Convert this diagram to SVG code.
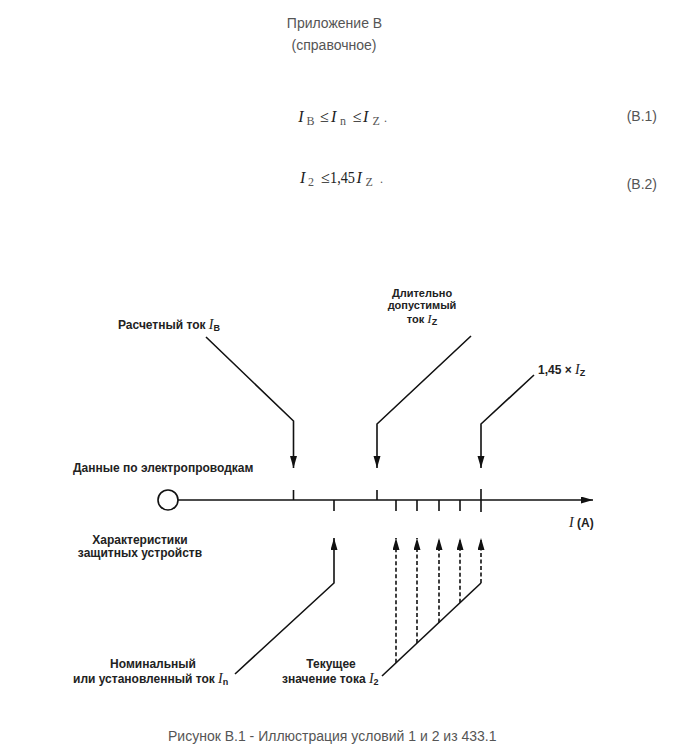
<svg xmlns="http://www.w3.org/2000/svg" width="673" height="754" viewBox="0 0 673 754">
<defs>
<style>
.hdr{font-family:"Liberation Sans",Arial,sans-serif;font-size:14px;fill:#555}
.f{font-family:"Liberation Serif","Times New Roman",serif;font-size:16px;fill:#222}
.fi{font-style:italic}
.fs{font-family:"Liberation Serif","Times New Roman",serif;font-size:12px;fill:#555}
.lbl{font-family:"Liberation Sans",Arial,sans-serif;font-size:12px;font-weight:bold;fill:#222}
.sm{font-size:11px}
.iv{font-family:"Liberation Serif","Times New Roman",serif;font-style:italic;font-size:14px;font-weight:normal}
.sb{font-size:9px}
.ln{fill:none;stroke:#111;stroke-width:1.6}
.ds{stroke-dasharray:4 2.5}
</style>
<marker id="ah" markerUnits="userSpaceOnUse" markerWidth="13" markerHeight="8" refX="12" refY="3.5" orient="auto" viewBox="0 0 13 8">
<path d="M0,0 L12,3.5 L0,7 z" fill="#111"/>
</marker>
</defs>
<rect width="673" height="754" fill="#fff"/>

<g id="header">
<text class="hdr" x="334.5" y="28" text-anchor="middle">Приложение В</text>
<text class="hdr" x="334" y="50" text-anchor="middle">(справочное)</text>
</g>

<g id="formula1">
<text class="f fi" x="298.3" y="122">I</text>
<text class="fs" x="306.5" y="125">B</text>
<text class="f" x="320" y="122">≤</text>
<text class="f fi" x="331" y="122">I</text>
<text class="fs" x="340" y="125">n</text>
<text class="f" x="352.7" y="122">≤</text>
<text class="f fi" x="363" y="122">I</text>
<text class="fs" x="372.5" y="125">Z</text>
<text class="fs" x="384" y="122">.</text>
<text class="hdr" x="657" y="121" text-anchor="end">(В.1)</text>
</g>

<g id="formula2">
<text class="f fi" x="300" y="183">I</text>
<text class="fs" x="308" y="186">2</text>
<text class="f" x="321" y="183">≤</text>
<text class="f" x="330" y="183" textLength="25" lengthAdjust="spacingAndGlyphs">1,45</text>
<text class="f fi" x="356.5" y="183">I</text>
<text class="fs" x="365.5" y="186">Z</text>
<text class="fs" x="380" y="183">.</text>
<text class="hdr" x="657" y="189" text-anchor="end">(В.2)</text>
</g>

<g id="axis">
<circle cx="168" cy="500" r="10" fill="#fff" stroke="#111" stroke-width="1.6"/>
<line class="ln" x1="178" y1="500" x2="593" y2="500" marker-end="url(#ah)"/>
<path class="ln" d="M293.5,490V500 M377,490V500 M334,500V511 M396,500V511 M417,500V511 M439,500V511 M460,500V511 M481,489V512"/>
<text class="lbl" x="569" y="527"><tspan class="iv">I</tspan> (A)</text>
</g>

<g id="connectors">
<polyline class="ln" points="206,337 293.5,421 293.5,468" marker-end="url(#ah)"/>
<polyline class="ln" points="471,336 377,424 377,468" marker-end="url(#ah)"/>
<polyline class="ln" points="534,375 481,424 481,468" marker-end="url(#ah)"/>
<polyline class="ln" points="235,674 334,583 334,538" marker-end="url(#ah)"/>
<line class="ln" x1="382" y1="676" x2="481" y2="583"/>
<line class="ln ds" x1="396" y1="662.8" x2="396" y2="538" marker-end="url(#ah)"/>
<line class="ln ds" x1="417" y1="643.1" x2="417" y2="538" marker-end="url(#ah)"/>
<line class="ln ds" x1="439" y1="622.5" x2="439" y2="538" marker-end="url(#ah)"/>
<line class="ln ds" x1="460" y1="602.7" x2="460" y2="538" marker-end="url(#ah)"/>
<line class="ln ds" x1="481" y1="583" x2="481" y2="538" marker-end="url(#ah)"/>
</g>

<g id="label-ib">
<text class="lbl" x="118" y="329">Расчетный ток <tspan class="iv">I</tspan><tspan class="sb" dy="2">B</tspan></text>
</g>

<g id="label-wiring">
<text class="lbl" x="73" y="472">Данные по электропроводкам</text>
</g>

<g id="label-iz">
<text class="lbl sm" x="422" y="296.5" text-anchor="middle">Длительно</text>
<text class="lbl sm" x="422" y="309" text-anchor="middle">допустимый</text>
<text class="lbl sm" x="422" y="323" text-anchor="middle">ток <tspan class="iv" style="font-size:13px">I</tspan><tspan class="sb" dy="2">Z</tspan></text>
</g>

<g id="label-145">
<text class="lbl" x="538" y="374">1,45 × <tspan class="iv">I</tspan><tspan class="sb" dy="2">Z</tspan></text>
</g>

<g id="label-protect">
<text class="lbl" x="140" y="543.5" text-anchor="middle">Характеристики</text>
<text class="lbl" x="140" y="556.5" text-anchor="middle">защитных устройств</text>
</g>

<g id="label-in">
<text class="lbl" x="153" y="667.5" text-anchor="middle">Номинальный</text>
<text class="lbl" x="73" y="683">или установленный ток <tspan class="iv">I</tspan><tspan class="sb" dy="2">n</tspan></text>
</g>

<g id="label-i2">
<text class="lbl" x="331" y="667.5" text-anchor="middle">Текущее</text>
<text class="lbl" x="282" y="683">значение тока <tspan class="iv">I</tspan><tspan class="sb" dy="2">2</tspan></text>
</g>

<g id="caption">
<text class="hdr" x="168" y="741">Рисунок В.1 - Иллюстрация условий 1 и 2 из 433.1</text>
</g>
</svg>
